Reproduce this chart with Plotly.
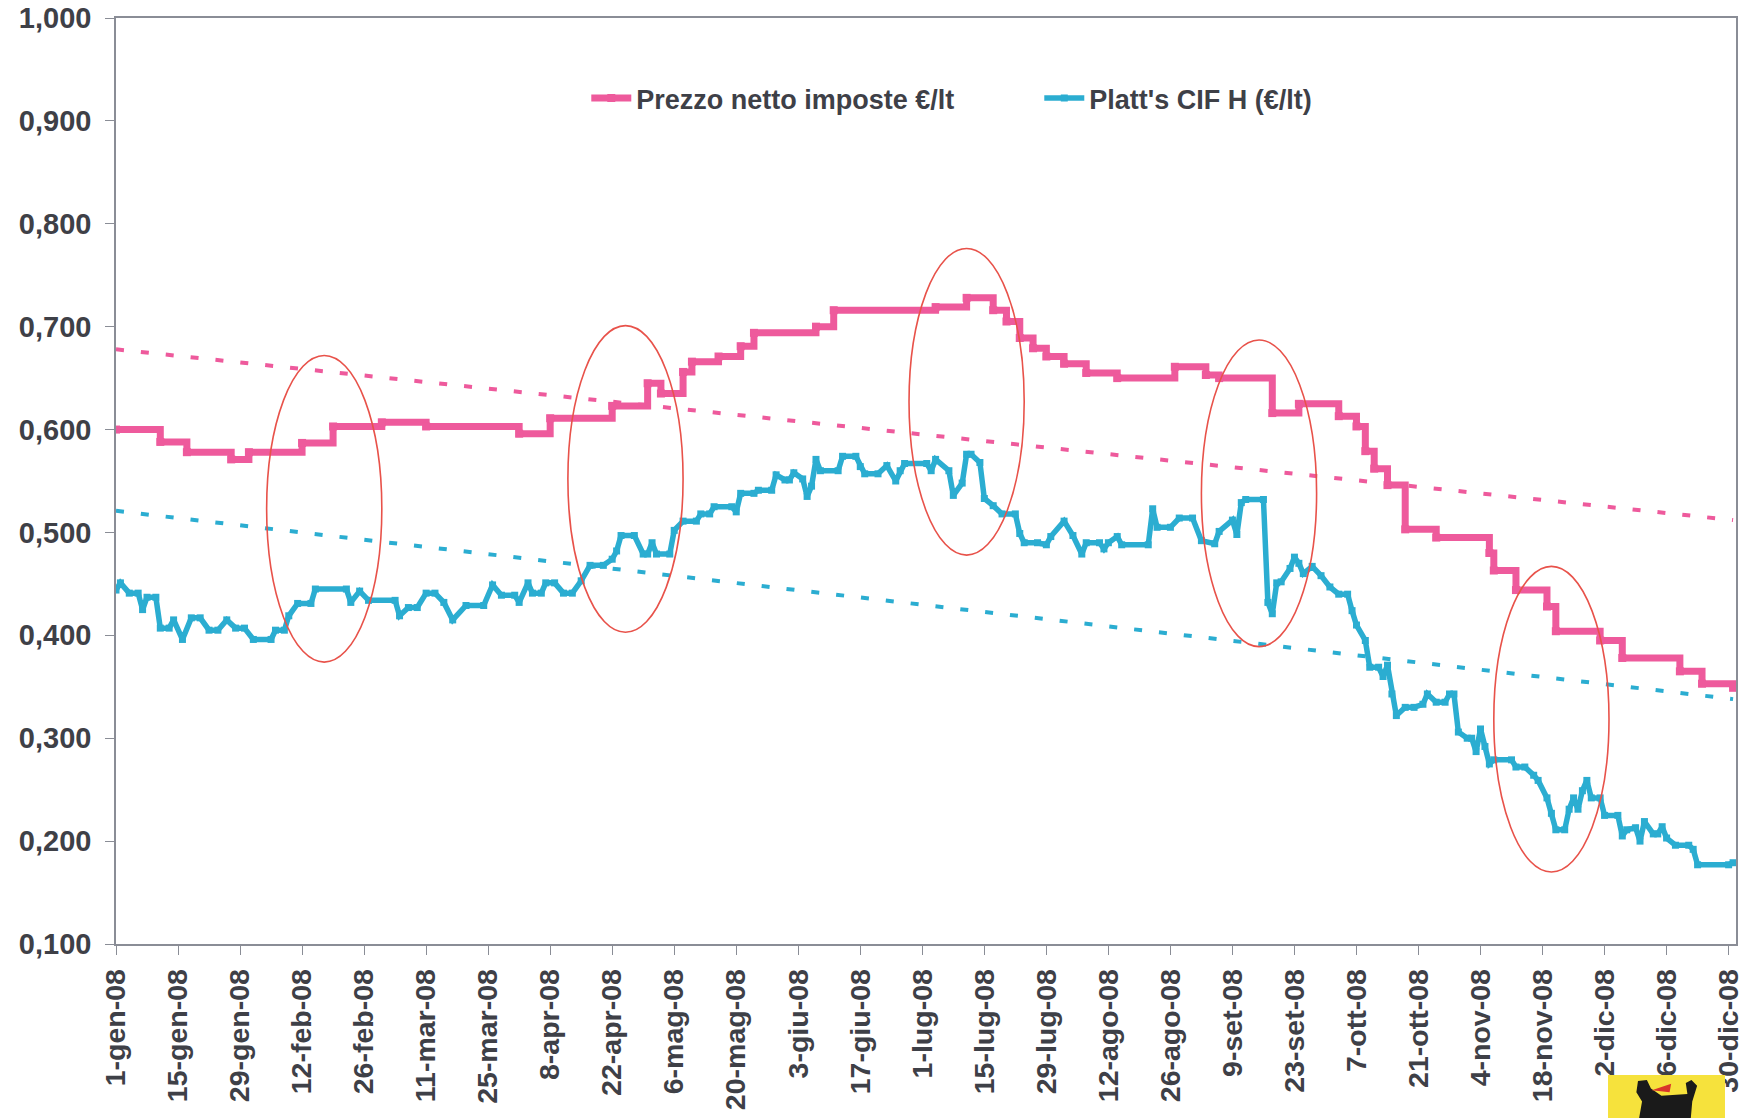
import plotly.graph_objects as go

# ---------------- data ----------------
prezzo_dates = ["2008-" + d for d in [
    "01-01", "01-11", "01-17", "01-27", "01-31", "02-12", "02-19", "03-01", "03-11", "04-01",
    "04-08", "04-22", "04-30", "05-03", "05-08", "05-10", "05-16", "05-21", "05-24", "06-07",
    "06-11", "07-04", "07-11", "07-17", "07-20", "07-23", "07-26", "07-29", "08-02", "08-07",
    "08-14", "08-27", "09-03", "09-06", "09-18", "09-24", "10-03", "10-07", "10-09", "10-11",
    "10-14", "10-18", "10-25", "11-06", "11-07", "11-12", "11-19", "11-21", "12-01", "12-06",
    "12-19", "12-24", "12-31"]]
prezzo_values = [
    0.600, 0.588, 0.578, 0.571, 0.578, 0.587, 0.603, 0.607, 0.603, 0.596,
    0.611, 0.623, 0.645, 0.635, 0.656, 0.666, 0.671, 0.681, 0.694, 0.700,
    0.716, 0.719, 0.728, 0.716, 0.705, 0.689, 0.679, 0.671, 0.664, 0.655,
    0.650, 0.661, 0.653, 0.650, 0.616, 0.625, 0.613, 0.603, 0.579, 0.562,
    0.546, 0.503, 0.495, 0.480, 0.463, 0.444, 0.428, 0.404, 0.395, 0.378,
    0.365, 0.353, 0.349]

platts_dates = ["2008-" + d for d in [
    "01-01", "01-02", "01-04", "01-06", "01-07", "01-08", "01-10", "01-11", "01-13", "01-14",
    "01-16", "01-18", "01-20", "01-22", "01-24", "01-26", "01-28", "01-30", "02-01", "02-05",
    "02-06", "02-08", "02-09", "02-11", "02-14", "02-15", "02-22", "02-23", "02-25", "02-27",
    "03-04", "03-05", "03-07", "03-09", "03-11", "03-13", "03-15", "03-17", "03-20", "03-24",
    "03-26", "03-28", "03-31", "04-01", "04-03", "04-04", "04-06", "04-07", "04-09", "04-11",
    "04-13", "04-15", "04-17", "04-20", "04-22", "04-23", "04-24", "04-27", "04-29", "04-30",
    "05-01", "05-02", "05-05", "05-06", "05-08", "05-11", "05-12", "05-14", "05-15", "05-19",
    "05-20", "05-21", "05-24", "05-25", "05-28", "05-29", "05-31", "06-01", "06-02", "06-04",
    "06-05", "06-06", "06-07", "06-08", "06-12", "06-13", "06-16", "06-17", "06-18", "06-21",
    "06-23", "06-25", "06-26", "06-27", "07-02", "07-03", "07-04", "07-07", "07-08", "07-10",
    "07-11", "07-12", "07-14", "07-15", "07-17", "07-19", "07-22", "07-23", "07-24", "07-27",
    "07-29", "07-30", "08-02", "08-04", "08-06", "08-07", "08-10", "08-11", "08-12", "08-14",
    "08-15", "08-21", "08-22", "08-23", "08-26", "08-28", "08-31", "09-02", "09-05", "09-06",
    "09-09", "09-10", "09-11", "09-12", "09-16", "09-17", "09-18", "09-19", "09-20", "09-22",
    "09-23", "09-24", "09-25", "09-27", "09-29", "10-01", "10-03", "10-05", "10-06", "10-07",
    "10-09", "10-10", "10-12", "10-13", "10-14", "10-15", "10-16", "10-18", "10-20", "10-22",
    "10-23", "10-25", "10-27", "10-28", "10-29", "10-30", "11-01", "11-02", "11-03", "11-04",
    "11-05", "11-06", "11-07", "11-11", "11-12", "11-14", "11-16", "11-17", "11-19", "11-20",
    "11-21", "11-23", "11-24", "11-25", "11-26", "11-27", "11-28", "11-29", "12-01", "12-02",
    "12-05", "12-06", "12-07", "12-09", "12-10", "12-11", "12-13", "12-14", "12-15", "12-16",
    "12-18", "12-21", "12-22", "12-23", "12-30", "12-31"]]
platts_values = [
    0.444, 0.451, 0.441, 0.441, 0.425, 0.437, 0.437, 0.407, 0.407, 0.415,
    0.396, 0.417, 0.417, 0.405, 0.405, 0.415, 0.407, 0.407, 0.396, 0.396,
    0.405, 0.405, 0.419, 0.431, 0.431, 0.445, 0.445, 0.432, 0.443, 0.434,
    0.434, 0.419, 0.427, 0.427, 0.441, 0.441, 0.432, 0.415, 0.429, 0.429,
    0.449, 0.439, 0.439, 0.432, 0.451, 0.441, 0.441, 0.451, 0.451, 0.441,
    0.441, 0.453, 0.468, 0.468, 0.474, 0.482, 0.497, 0.497, 0.479, 0.479,
    0.490, 0.479, 0.479, 0.502, 0.511, 0.511, 0.518, 0.518, 0.525, 0.525,
    0.520, 0.538, 0.538, 0.541, 0.541, 0.556, 0.551, 0.551, 0.558, 0.552,
    0.535, 0.545, 0.571, 0.560, 0.560, 0.574, 0.574, 0.564, 0.557, 0.557,
    0.565, 0.550, 0.560, 0.567, 0.567, 0.560, 0.571, 0.560, 0.536, 0.548,
    0.576, 0.576, 0.568, 0.533, 0.526, 0.518, 0.518, 0.499, 0.490, 0.490,
    0.488, 0.496, 0.511, 0.497, 0.479, 0.490, 0.490, 0.484, 0.490, 0.496,
    0.488, 0.488, 0.523, 0.505, 0.505, 0.514, 0.514, 0.492, 0.489, 0.501,
    0.512, 0.498, 0.529, 0.532, 0.532, 0.432, 0.421, 0.451, 0.452, 0.465,
    0.476, 0.470, 0.460, 0.467, 0.458, 0.447, 0.440, 0.440, 0.424, 0.410,
    0.395, 0.369, 0.369, 0.360, 0.371, 0.343, 0.322, 0.330, 0.330, 0.333,
    0.343, 0.335, 0.335, 0.343, 0.343, 0.306, 0.300, 0.300, 0.287, 0.309,
    0.292, 0.275, 0.279, 0.279, 0.272, 0.272, 0.264, 0.259, 0.242, 0.227,
    0.211, 0.211, 0.231, 0.242, 0.231, 0.249, 0.259, 0.242, 0.242, 0.225,
    0.225, 0.205, 0.211, 0.213, 0.200, 0.219, 0.207, 0.207, 0.214, 0.203,
    0.196, 0.196, 0.192, 0.177, 0.177, 0.179]

# linear trend lines (end points)
trend_dates = ["2008-01-01", "2008-12-31"]
prezzo_trend = [0.678, 0.512]
platts_trend = [0.521, 0.338]

# highlighted windows (red ellipses): date span and value span
ellipse_x0 = ["2008-02-04", "2008-04-12", "2008-06-28", "2008-09-02", "2008-11-07"]
ellipse_x1 = ["2008-03-01", "2008-05-08", "2008-07-24", "2008-09-28", "2008-12-03"]
ellipse_y0 = [0.374, 0.403, 0.478, 0.389, 0.170]
ellipse_y1 = [0.672, 0.701, 0.776, 0.687, 0.467]

tick_dates = ["2008-01-01", "2008-01-15", "2008-01-29", "2008-02-12", "2008-02-26",
              "2008-03-11", "2008-03-25", "2008-04-08", "2008-04-22", "2008-05-06",
              "2008-05-20", "2008-06-03", "2008-06-17", "2008-07-01", "2008-07-15",
              "2008-07-29", "2008-08-12", "2008-08-26", "2008-09-09", "2008-09-23",
              "2008-10-07", "2008-10-21", "2008-11-04", "2008-11-18", "2008-12-02",
              "2008-12-16", "2008-12-30"]
tick_labels = ["1-gen-08", "15-gen-08", "29-gen-08", "12-feb-08", "26-feb-08",
               "11-mar-08", "25-mar-08", "8-apr-08", "22-apr-08", "6-mag-08",
               "20-mag-08", "3-giu-08", "17-giu-08", "1-lug-08", "15-lug-08",
               "29-lug-08", "12-ago-08", "26-ago-08", "9-set-08", "23-set-08",
               "7-ott-08", "21-ott-08", "4-nov-08", "18-nov-08", "2-dic-08",
               "16-dic-08", "30-dic-08"]

# ---------------- styling ----------------
PINK = "#EE5A9C"
CYAN = "#2BADD1"
RED = "#E8524A"
TEXT = "#3E4047"
AXIS = "#8A8D96"
FONT = "Liberation Sans, Arial, sans-serif"

fig = go.Figure()

fig.add_trace(go.Scatter(
    x=trend_dates, y=prezzo_trend, mode="lines", showlegend=False, hoverinfo="skip",
    line=dict(color=PINK, width=4, dash="8px,17px")))
fig.add_trace(go.Scatter(
    x=trend_dates, y=platts_trend, mode="lines", showlegend=False, hoverinfo="skip",
    line=dict(color=CYAN, width=4, dash="8px,17px")))

fig.add_trace(go.Scatter(
    x=prezzo_dates, y=prezzo_values, mode="lines+markers",
    name="Prezzo netto imposte €/lt",
    line=dict(color=PINK, width=7, shape="hv"),
    marker=dict(symbol="square", size=8, color=PINK)))
fig.add_trace(go.Scatter(
    x=platts_dates, y=platts_values, mode="lines+markers",
    name="Platt's CIF H (€/lt)",
    line=dict(color=CYAN, width=5.5),
    marker=dict(symbol="square", size=7, color=CYAN)))

shapes = []
for a, b, c, d in zip(ellipse_x0, ellipse_x1, ellipse_y0, ellipse_y1):
    shapes.append(dict(type="circle", xref="x", yref="y", x0=a, x1=b, y0=c, y1=d,
                       line=dict(color=RED, width=1.6), layer="above"))
# company logo patch at the bottom right corner (yellow square with black dog)
shapes.append(dict(type="rect", xref="paper", yref="paper", x0=0.9210, x1=0.9932,
                   y0=-0.19, y1=-0.1415, fillcolor="#F6E23C", line=dict(width=0),
                   layer="above"))
shapes.append(dict(type="path", xref="paper", yref="paper", layer="above",
                   path="M 0.9395,-0.1480 L 0.9450,-0.1470 L 0.9475,-0.1560 L 0.9540,-0.1640 "
                        "L 0.9700,-0.1620 L 0.9690,-0.1500 L 0.9725,-0.1470 L 0.9760,-0.1530 "
                        "L 0.9730,-0.1700 L 0.9720,-0.1900 L 0.9400,-0.1900 L 0.9420,-0.1700 "
                        "L 0.9385,-0.1600 Z",
                   fillcolor="#1A1A1A", line=dict(width=0)))
shapes.append(dict(type="path", xref="paper", yref="paper", layer="above",
                   path="M 0.9480,-0.1580 L 0.9600,-0.1510 L 0.9590,-0.1600 Z",
                   fillcolor="#D9362B", line=dict(width=0)))

fig.update_layout(
    width=1751, height=1118,
    margin=dict(l=116, r=15, t=18, b=174, autoexpand=False),
    paper_bgcolor="white", plot_bgcolor="white",
    separators=",.",
    font=dict(family=FONT, color=TEXT),
    shapes=shapes,
    showlegend=True,
    legend=dict(orientation="h", x=0.2903, y=0.913, xanchor="left", yanchor="middle",
                bgcolor="rgba(0,0,0,0)", entrywidth=398, entrywidthmode="pixels",
                itemwidth=40,
                font=dict(family=FONT, size=27, color=TEXT, weight="bold")),
)

fig.update_xaxes(
    type="date", range=["2008-01-01", "2008-12-31 16:00"], automargin=False,
    tickmode="array", tickvals=tick_dates, ticktext=tick_labels, tickangle=-90,
    tickfont=dict(family=FONT, size=28.5, color=TEXT, weight="bold"),
    ticklabelstandoff=3, ticklabeloverflow="allow",
    showgrid=False, zeroline=False,
    showline=True, linecolor=AXIS, linewidth=1.5, mirror=True,
    ticks="outside", ticklen=9, tickcolor=AXIS, tickwidth=1.2)
fig.update_yaxes(
    range=[0.1, 1.0], dtick=0.1, tick0=0.1, tickformat=".3f", automargin=False,
    tickfont=dict(family=FONT, size=29, color=TEXT, weight="bold"),
    ticklabelstandoff=8, ticklabeloverflow="allow",
    showgrid=False, zeroline=False,
    showline=True, linecolor=AXIS, linewidth=1.5, mirror=True,
    ticks="outside", ticklen=9, tickcolor=AXIS, tickwidth=1.2)

# remove the browser's default 8 px page margin so the figure sits at the top-left corner
fig.write_html("out.html", config={"displayModeBar": False},
               post_script="document.body.style.margin='0';")
